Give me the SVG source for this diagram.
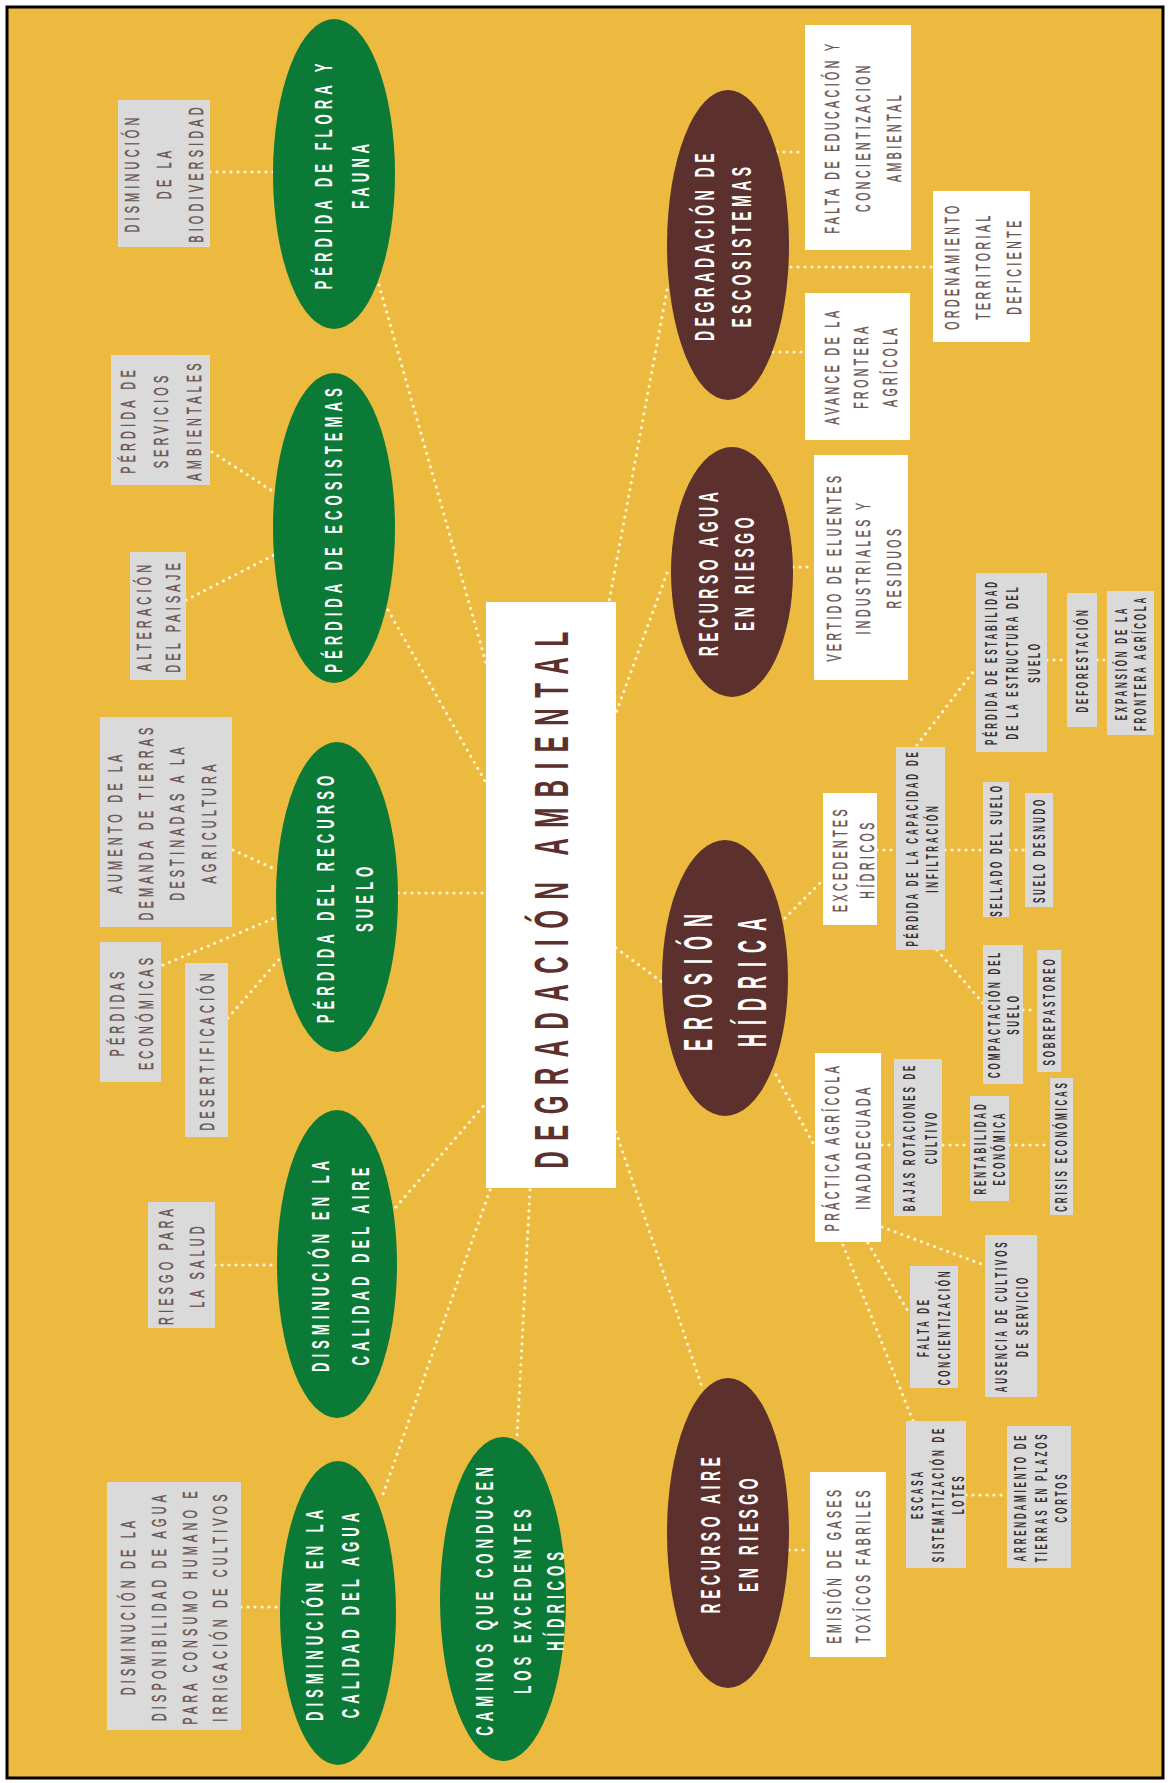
<svg xmlns="http://www.w3.org/2000/svg" width="1169" height="1783" viewBox="0 0 1169 1783">
<style>
text{font-family:"Liberation Sans",Arial,sans-serif;text-anchor:middle}
.e{font-size:24px;font-weight:bold;fill:#fff;letter-spacing:9px}
.eb{font-size:28px;font-weight:bold;fill:#fff;letter-spacing:9px}
.eh{font-size:40px;font-weight:bold;fill:#fff;letter-spacing:20px}
.b{font-size:21px;fill:#6b5552;letter-spacing:7px;stroke:#6b5552;stroke-width:0.5}
.bl{font-size:21px;fill:#6b5552;letter-spacing:8px;stroke:#6b5552;stroke-width:0.5}
.s{font-size:16px;font-weight:bold;fill:#3a3030;letter-spacing:5.6px}
.t{font-size:48px;font-weight:bold;fill:#5c302d;letter-spacing:21px}
.g{fill:#0b7a36}
.r{fill:#5c302d}
.gb{fill:#dadada}
.wb{fill:#ffffff}
#connectors line{stroke:#fff5d2;stroke-width:3.2;stroke-dasharray:0 7;stroke-linecap:round}
</style>
<rect x="0" y="0" width="1169" height="1783" fill="#ffffff"/>
<rect x="7" y="7" width="1156" height="1771" fill="#ecba3e" stroke="#000" stroke-width="3"/>
<g id="connectors">
<line x1="210" y1="172" x2="274" y2="172"/>
<line x1="379" y1="285" x2="486" y2="663"/>
<line x1="212" y1="452" x2="274" y2="492"/>
<line x1="186" y1="600" x2="274" y2="555"/>
<line x1="388" y1="610" x2="486" y2="783"/>
<line x1="233" y1="850" x2="277" y2="870"/>
<line x1="163" y1="965" x2="277" y2="917"/>
<line x1="228" y1="1018" x2="281" y2="957"/>
<line x1="398" y1="893" x2="486" y2="893"/>
<line x1="215" y1="1265" x2="277" y2="1265"/>
<line x1="396" y1="1207" x2="486" y2="1103"/>
<line x1="490" y1="1190" x2="381" y2="1500"/>
<line x1="530" y1="1190" x2="517" y2="1438"/>
<line x1="241" y1="1607" x2="281" y2="1607"/>
<line x1="667" y1="290" x2="609" y2="602"/>
<line x1="777" y1="152" x2="805" y2="152"/>
<line x1="791" y1="267" x2="933" y2="267"/>
<line x1="773" y1="352" x2="805" y2="352"/>
<line x1="667" y1="573" x2="616" y2="713"/>
<line x1="793" y1="567" x2="814" y2="567"/>
<line x1="616" y1="948" x2="662" y2="982"/>
<line x1="616" y1="1132" x2="702" y2="1387"/>
<line x1="785" y1="918" x2="823" y2="880"/>
<line x1="877" y1="850" x2="896" y2="850"/>
<line x1="945" y1="850" x2="983" y2="850"/>
<line x1="1009" y1="850" x2="1025" y2="850"/>
<line x1="917" y1="745" x2="976" y2="668"/>
<line x1="1047" y1="660" x2="1067" y2="660"/>
<line x1="1097" y1="660" x2="1107" y2="660"/>
<line x1="937" y1="950" x2="983" y2="1003"/>
<line x1="1023" y1="1010" x2="1037" y2="1010"/>
<line x1="776" y1="1075" x2="814" y2="1145"/>
<line x1="882" y1="1145" x2="894" y2="1145"/>
<line x1="943" y1="1145" x2="970" y2="1145"/>
<line x1="1009" y1="1145" x2="1050" y2="1145"/>
<line x1="882" y1="1227" x2="984" y2="1265"/>
<line x1="868" y1="1243" x2="909" y2="1313"/>
<line x1="843" y1="1245" x2="913" y2="1421"/>
<line x1="966" y1="1495" x2="1007" y2="1495"/>
<line x1="789" y1="1550" x2="810" y2="1550"/>
</g>

<g id="center">
<rect class="wb" x="486" y="602" width="130" height="586"/>
<text class="t" transform="translate(568,895) rotate(-90) scale(0.5,1)">DEGRADACIÓN AMBIENTAL</text>
</g>

<g id="flora-fauna">
<ellipse class="g" cx="334" cy="174" rx="61" ry="155"/>
<text class="e" transform="translate(332,174) rotate(-90) scale(0.55,1)">PÉRDIDA DE FLORA Y</text>
<text class="e" transform="translate(369,174) rotate(-90) scale(0.55,1)">FAUNA</text>
</g>
<g id="biodiversidad">
<rect class="gb" x="118" y="100" width="92" height="147"/>
<text class="bl" transform="translate(139,173) rotate(-90) scale(0.52,1)">DISMINUCIÓN</text>
<text class="bl" transform="translate(171,173) rotate(-90) scale(0.52,1)">DE LA</text>
<text class="bl" transform="translate(203,173) rotate(-90) scale(0.52,1)">BIODIVERSIDAD</text>
</g>

<g id="ecosistemas">
<ellipse class="g" cx="334" cy="528" rx="61" ry="155"/>
<text class="e" transform="translate(342,528) rotate(-90) scale(0.55,1)">PÉRDIDA DE ECOSISTEMAS</text>
</g>
<g id="servicios">
<rect class="gb" x="111" y="355" width="99" height="130"/>
<text class="bl" transform="translate(135,420) rotate(-90) scale(0.52,1)">PÉRDIDA DE</text>
<text class="bl" transform="translate(168,420) rotate(-90) scale(0.52,1)">SERVICIOS</text>
<text class="bl" transform="translate(201,420) rotate(-90) scale(0.52,1)">AMBIENTALES</text>
</g>
<g id="paisaje">
<rect class="gb" x="130" y="552" width="56" height="128"/>
<text class="bl" transform="translate(151,616) rotate(-90) scale(0.52,1)">ALTERACIÓN</text>
<text class="bl" transform="translate(180,616) rotate(-90) scale(0.52,1)">DEL PAISAJE</text>
</g>

<g id="suelo">
<ellipse class="g" cx="337" cy="897" rx="61" ry="155"/>
<text class="e" transform="translate(334,897) rotate(-90) scale(0.55,1)">PÉRDIDA DEL RECURSO</text>
<text class="e" transform="translate(373,897) rotate(-90) scale(0.55,1)">SUELO</text>
</g>
<g id="aumento">
<rect class="gb" x="100" y="717" width="132" height="210"/>
<text class="bl" transform="translate(122,822) rotate(-90) scale(0.52,1)">AUMENTO DE LA</text>
<text class="bl" transform="translate(153,822) rotate(-90) scale(0.52,1)">DEMANDA DE TIERRAS</text>
<text class="bl" transform="translate(184,822) rotate(-90) scale(0.52,1)">DESTINADAS A LA</text>
<text class="bl" transform="translate(216,822) rotate(-90) scale(0.52,1)">AGRICULTURA</text>
</g>
<g id="perdidas-economicas">
<rect class="gb" x="100" y="942" width="61" height="140"/>
<text class="bl" transform="translate(124,1012) rotate(-90) scale(0.52,1)">PÉRDIDAS</text>
<text class="bl" transform="translate(153,1012) rotate(-90) scale(0.52,1)">ECONÓMICAS</text>
</g>
<g id="desertificacion">
<rect class="gb" x="185" y="963" width="43" height="174"/>
<text class="bl" transform="translate(214,1050) rotate(-90) scale(0.52,1)">DESERTIFICACIÓN</text>
</g>

<g id="calidad-aire">
<ellipse class="g" cx="337" cy="1264" rx="60" ry="154"/>
<text class="e" transform="translate(329,1264) rotate(-90) scale(0.55,1)">DISMINUCIÓN EN LA</text>
<text class="e" transform="translate(369,1264) rotate(-90) scale(0.55,1)">CALIDAD DEL AIRE</text>
</g>
<g id="salud">
<rect class="gb" x="148" y="1202" width="67" height="126"/>
<text class="bl" transform="translate(173,1265) rotate(-90) scale(0.52,1)">RIESGO PARA</text>
<text class="bl" transform="translate(204,1265) rotate(-90) scale(0.52,1)">LA SALUD</text>
</g>

<g id="calidad-agua">
<ellipse class="g" cx="338" cy="1613" rx="58" ry="152"/>
<text class="e" transform="translate(323,1613) rotate(-90) scale(0.55,1)">DISMINUCIÓN EN LA</text>
<text class="e" transform="translate(359,1613) rotate(-90) scale(0.55,1)">CALIDAD DEL AGUA</text>
</g>
<g id="disponibilidad">
<rect class="gb" x="107" y="1482" width="134" height="248"/>
<text class="bl" transform="translate(135,1606) rotate(-90) scale(0.52,1)">DISMINUCIÓN DE LA</text>
<text class="bl" transform="translate(166,1606) rotate(-90) scale(0.52,1)">DISPONIBILIDAD DE AGUA</text>
<text class="bl" transform="translate(197,1606) rotate(-90) scale(0.52,1)">PARA CONSUMO HUMANO E</text>
<text class="bl" transform="translate(227,1606) rotate(-90) scale(0.52,1)">IRRIGACIÓN DE CULTIVOS</text>
</g>

<g id="caminos">
<ellipse class="g" cx="503" cy="1599" rx="63" ry="162"/>
<text class="e" transform="translate(493,1599) rotate(-90) scale(0.55,1)">CAMINOS QUE CONDUCEN</text>
<text class="e" transform="translate(531,1599) rotate(-90) scale(0.55,1)">LOS EXCEDENTES</text>
<text class="e" transform="translate(564,1599) rotate(-90) scale(0.55,1)">HÍDRICOS</text>
</g>

<g id="degradacion-ecosistemas">
<ellipse class="r" cx="728" cy="245" rx="61" ry="155"/>
<text class="eb" transform="translate(714,245) rotate(-90) scale(0.5,1)">DEGRADACIÓN DE</text>
<text class="eb" transform="translate(751,245) rotate(-90) scale(0.5,1)">ESCOSISTEMAS</text>
</g>
<g id="falta-educacion">
<rect class="wb" x="805" y="25" width="106" height="225"/>
<text class="b" transform="translate(839,137) rotate(-90) scale(0.5,1)">FALTA DE EDUCACIÓN Y</text>
<text class="b" transform="translate(870,137) rotate(-90) scale(0.5,1)">CONCIENTIZACION</text>
<text class="b" transform="translate(901,137) rotate(-90) scale(0.5,1)">AMBIENTAL</text>
</g>
<g id="ordenamiento">
<rect class="wb" x="933" y="191" width="97" height="151"/>
<text class="b" transform="translate(959,266) rotate(-90) scale(0.5,1)">ORDENAMIENTO</text>
<text class="b" transform="translate(990,266) rotate(-90) scale(0.5,1)">TERRITORIAL</text>
<text class="b" transform="translate(1021,266) rotate(-90) scale(0.5,1)">DEFICIENTE</text>
</g>
<g id="avance-frontera">
<rect class="wb" x="805" y="293" width="105" height="147"/>
<text class="b" transform="translate(839,366) rotate(-90) scale(0.5,1)">AVANCE DE LA</text>
<text class="b" transform="translate(868,366) rotate(-90) scale(0.5,1)">FRONTERA</text>
<text class="b" transform="translate(897,366) rotate(-90) scale(0.5,1)">AGRÍCOLA</text>
</g>

<g id="recurso-agua">
<ellipse class="r" cx="732" cy="572" rx="61" ry="125"/>
<text class="eb" transform="translate(718,572) rotate(-90) scale(0.5,1)">RECURSO AGUA</text>
<text class="eb" transform="translate(754,572) rotate(-90) scale(0.5,1)">EN RIESGO</text>
</g>
<g id="vertido">
<rect class="wb" x="814" y="455" width="94" height="225"/>
<text class="b" transform="translate(841,567) rotate(-90) scale(0.5,1)">VERTIDO DE ELUENTES</text>
<text class="b" transform="translate(870,567) rotate(-90) scale(0.5,1)">INDUSTRIALES Y</text>
<text class="b" transform="translate(901,567) rotate(-90) scale(0.5,1)">RESIDUOS</text>
</g>

<g id="erosion">
<ellipse class="r" cx="725" cy="978" rx="63" ry="138"/>
<text class="eh" transform="translate(712,978) rotate(-90) scale(0.45,1)">EROSIÓN</text>
<text class="eh" transform="translate(766,978) rotate(-90) scale(0.45,1)">HÍDRICA</text>
</g>
<g id="excedentes">
<rect class="wb" x="823" y="793" width="54" height="132"/>
<text class="b" transform="translate(847,859) rotate(-90) scale(0.5,1)">EXCEDENTES</text>
<text class="b" transform="translate(874,859) rotate(-90) scale(0.5,1)">HÍDRICOS</text>
</g>
<g id="capacidad-infiltracion">
<rect class="gb" x="896" y="747" width="49" height="203"/>
<text class="s" transform="translate(918,848) rotate(-90) scale(0.5,1)">PÉRDIDA DE LA CAPACIDAD DE</text>
<text class="s" transform="translate(938,848) rotate(-90) scale(0.5,1)">INFILTRACIÓN</text>
</g>
<g id="estabilidad">
<rect class="gb" x="976" y="573" width="71" height="179"/>
<text class="s" transform="translate(997,662) rotate(-90) scale(0.5,1)">PÉRDIDA DE ESTABILIDAD</text>
<text class="s" transform="translate(1018,662) rotate(-90) scale(0.5,1)">DE LA ESTRUCTURA DEL</text>
<text class="s" transform="translate(1040,662) rotate(-90) scale(0.5,1)">SUELO</text>
</g>
<g id="deforestacion">
<rect class="gb" x="1067" y="593" width="30" height="134"/>
<text class="s" transform="translate(1088,660) rotate(-90) scale(0.5,1)">DEFORESTACIÓN</text>
</g>
<g id="expansion">
<rect class="gb" x="1107" y="591" width="47" height="144"/>
<text class="s" transform="translate(1127,663) rotate(-90) scale(0.5,1)">EXPANSIÓN DE LA</text>
<text class="s" transform="translate(1146,663) rotate(-90) scale(0.5,1)">FRONTERA AGRÍCOLA</text>
</g>
<g id="sellado">
<rect class="gb" x="983" y="782" width="26" height="135"/>
<text class="s" transform="translate(1002,850) rotate(-90) scale(0.5,1)">SELLADO DEL SUELO</text>
</g>
<g id="desnudo">
<rect class="gb" x="1025" y="793" width="28" height="114"/>
<text class="s" transform="translate(1045,850) rotate(-90) scale(0.5,1)">SUELO DESNUDO</text>
</g>
<g id="compactacion">
<rect class="gb" x="983" y="945" width="40" height="139"/>
<text class="s" transform="translate(1000,1014) rotate(-90) scale(0.5,1)">COMPACTACIÓN DEL</text>
<text class="s" transform="translate(1019,1014) rotate(-90) scale(0.5,1)">SUELO</text>
</g>
<g id="sobrepastoreo">
<rect class="gb" x="1037" y="950" width="24" height="122"/>
<text class="s" transform="translate(1055,1011) rotate(-90) scale(0.5,1)">SOBREPASTOREO</text>
</g>
<g id="practica">
<rect class="wb" x="815" y="1053" width="66" height="189"/>
<text class="b" transform="translate(839,1147) rotate(-90) scale(0.5,1)">PRÁCTICA AGRÍCOLA</text>
<text class="b" transform="translate(870,1147) rotate(-90) scale(0.5,1)">INADADECUADA</text>
</g>
<g id="rotaciones">
<rect class="gb" x="894" y="1059" width="48" height="157"/>
<text class="s" transform="translate(915,1137) rotate(-90) scale(0.5,1)">BAJAS ROTACIONES DE</text>
<text class="s" transform="translate(937,1137) rotate(-90) scale(0.5,1)">CULTIVO</text>
</g>
<g id="rentabilidad">
<rect class="gb" x="970" y="1096" width="39" height="105"/>
<text class="s" transform="translate(986,1148) rotate(-90) scale(0.5,1)">RENTABILIDAD</text>
<text class="s" transform="translate(1005,1148) rotate(-90) scale(0.5,1)">ECONÓMICA</text>
</g>
<g id="crisis">
<rect class="gb" x="1050" y="1078" width="23" height="137"/>
<text class="s" transform="translate(1067,1146) rotate(-90) scale(0.5,1)">CRISIS ECONÓMICAS</text>
</g>
<g id="ausencia">
<rect class="gb" x="985" y="1235" width="52" height="162"/>
<text class="s" transform="translate(1007,1316) rotate(-90) scale(0.5,1)">AUSENCIA DE CULTIVOS</text>
<text class="s" transform="translate(1028,1316) rotate(-90) scale(0.5,1)">DE SERVICIO</text>
</g>
<g id="falta-concientizacion">
<rect class="gb" x="910" y="1266" width="48" height="122"/>
<text class="s" transform="translate(929,1327) rotate(-90) scale(0.5,1)">FALTA DE</text>
<text class="s" transform="translate(950,1327) rotate(-90) scale(0.5,1)">CONCIENTIZACIÓN</text>
</g>
<g id="escasa">
<rect class="gb" x="906" y="1421" width="60" height="147"/>
<text class="s" transform="translate(923,1494) rotate(-90) scale(0.5,1)">ESCASA</text>
<text class="s" transform="translate(944,1494) rotate(-90) scale(0.5,1)">SISTEMATIZACIÓN DE</text>
<text class="s" transform="translate(964,1494) rotate(-90) scale(0.5,1)">LOTES</text>
</g>
<g id="arrendamiento">
<rect class="gb" x="1007" y="1426" width="64" height="142"/>
<text class="s" transform="translate(1026,1497) rotate(-90) scale(0.5,1)">ARRENDAMIENTO DE</text>
<text class="s" transform="translate(1047,1497) rotate(-90) scale(0.5,1)">TIERRAS EN PLAZOS</text>
<text class="s" transform="translate(1067,1497) rotate(-90) scale(0.5,1)">CORTOS</text>
</g>

<g id="recurso-aire">
<ellipse class="r" cx="728" cy="1533" rx="61" ry="155"/>
<text class="eb" transform="translate(720,1533) rotate(-90) scale(0.5,1)">RECURSO AIRE</text>
<text class="eb" transform="translate(758,1533) rotate(-90) scale(0.5,1)">EN RIESGO</text>
</g>
<g id="emision">
<rect class="wb" x="810" y="1472" width="76" height="185"/>
<text class="b" transform="translate(841,1565) rotate(-90) scale(0.5,1)">EMISIÓN DE GASES</text>
<text class="b" transform="translate(870,1565) rotate(-90) scale(0.5,1)">TOXÍCOS FABRILES</text>
</g>
</svg>
